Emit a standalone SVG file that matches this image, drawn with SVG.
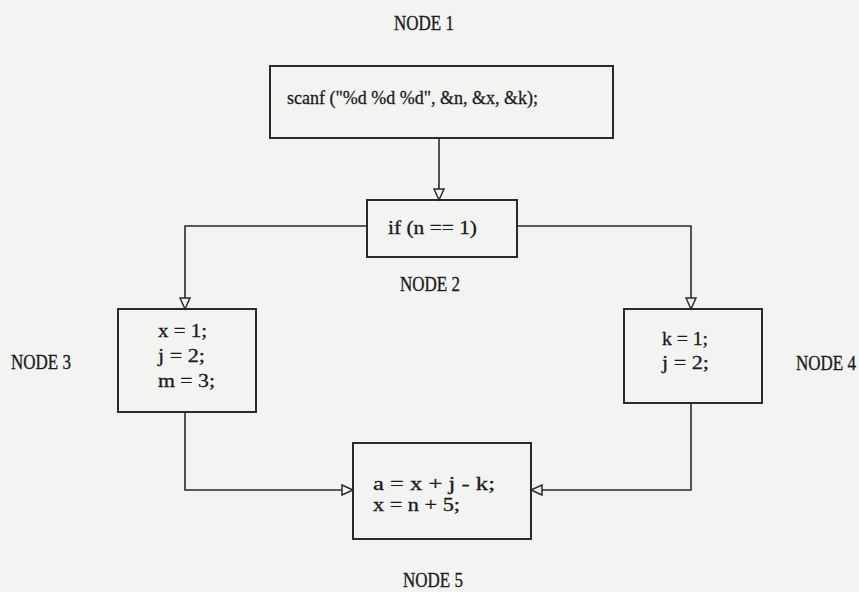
<svg xmlns="http://www.w3.org/2000/svg" width="859" height="592" viewBox="0 0 859 592">
<style>
.box{fill:none;stroke:#2a2a2a;stroke-width:2}
.ln{fill:none;stroke:#2a2a2a;stroke-width:1.6}
.code{font-family:"Liberation Serif","DejaVu Serif",serif;font-size:19px;fill:#1a1a1a;stroke:#1a1a1a;stroke-width:0.3}
.lbl{font-family:"Liberation Serif","DejaVu Serif",serif;font-size:17px;fill:#1a1a1a;stroke:#1a1a1a;stroke-width:0.25}
</style>
<defs>
<marker id="ah" markerWidth="14" markerHeight="12" refX="12" refY="6" orient="auto" markerUnits="userSpaceOnUse">
<path d="M1,1 L12,6 L1,11 Z" fill="#f3f3f1" stroke="#2a2a2a" stroke-width="1.5"/>
</marker>
</defs>
<rect width="859" height="592" fill="#f3f3f1"/>
<g id="connectors">
<path class="ln" d="M439,138 V200" marker-end="url(#ah)"/>
<path class="ln" d="M367,226 H185 V309" marker-end="url(#ah)"/>
<path class="ln" d="M517,226 H691 V309" marker-end="url(#ah)"/>
<path class="ln" d="M185,412 V490 H353" marker-end="url(#ah)"/>
<path class="ln" d="M691,403 V490 H531" marker-end="url(#ah)"/>
</g>
<g id="node1">
<rect class="box" x="270" y="66" width="343" height="72"/>
<text class="code" x="287" y="104" font-size="20" textLength="251" lengthAdjust="spacingAndGlyphs">scanf ("%d %d %d", &amp;n, &amp;x, &amp;k);</text>
<text class="lbl" transform="translate(394,30) scale(1,1.25)">NODE 1</text>
</g>
<g id="node2">
<rect class="box" x="367" y="200" width="150" height="57"/>
<text class="code" x="388" y="234" font-size="21" textLength="89" lengthAdjust="spacingAndGlyphs">if (n == 1)</text>
<text class="lbl" transform="translate(400,291) scale(1,1.25)">NODE 2</text>
</g>
<g id="node3">
<rect class="box" x="118" y="309" width="138" height="103"/>
<text class="code" x="158" y="337" textLength="49" lengthAdjust="spacingAndGlyphs">x = 1;</text>
<text class="code" x="158" y="362" textLength="47" lengthAdjust="spacingAndGlyphs">j = 2;</text>
<text class="code" x="158" y="387" textLength="57" lengthAdjust="spacingAndGlyphs">m = 3;</text>
<text class="lbl" transform="translate(11,369) scale(1,1.25)">NODE 3</text>
</g>
<g id="node4">
<rect class="box" x="624" y="309" width="138" height="94"/>
<text class="code" x="662" y="345" textLength="46" lengthAdjust="spacingAndGlyphs">k = 1;</text>
<text class="code" x="662" y="369" textLength="47" lengthAdjust="spacingAndGlyphs">j = 2;</text>
<text class="lbl" transform="translate(796,370) scale(1,1.25)">NODE 4</text>
</g>
<g id="node5">
<rect class="box" x="353" y="443" width="178" height="96"/>
<text class="code" x="373" y="490" font-size="17" textLength="122" lengthAdjust="spacingAndGlyphs">a = x + j - k;</text>
<text class="code" x="373" y="511" font-size="17" textLength="87" lengthAdjust="spacingAndGlyphs">x = n + 5;</text>
<text class="lbl" transform="translate(403,587) scale(1,1.25)">NODE 5</text>
</g>
</svg>
